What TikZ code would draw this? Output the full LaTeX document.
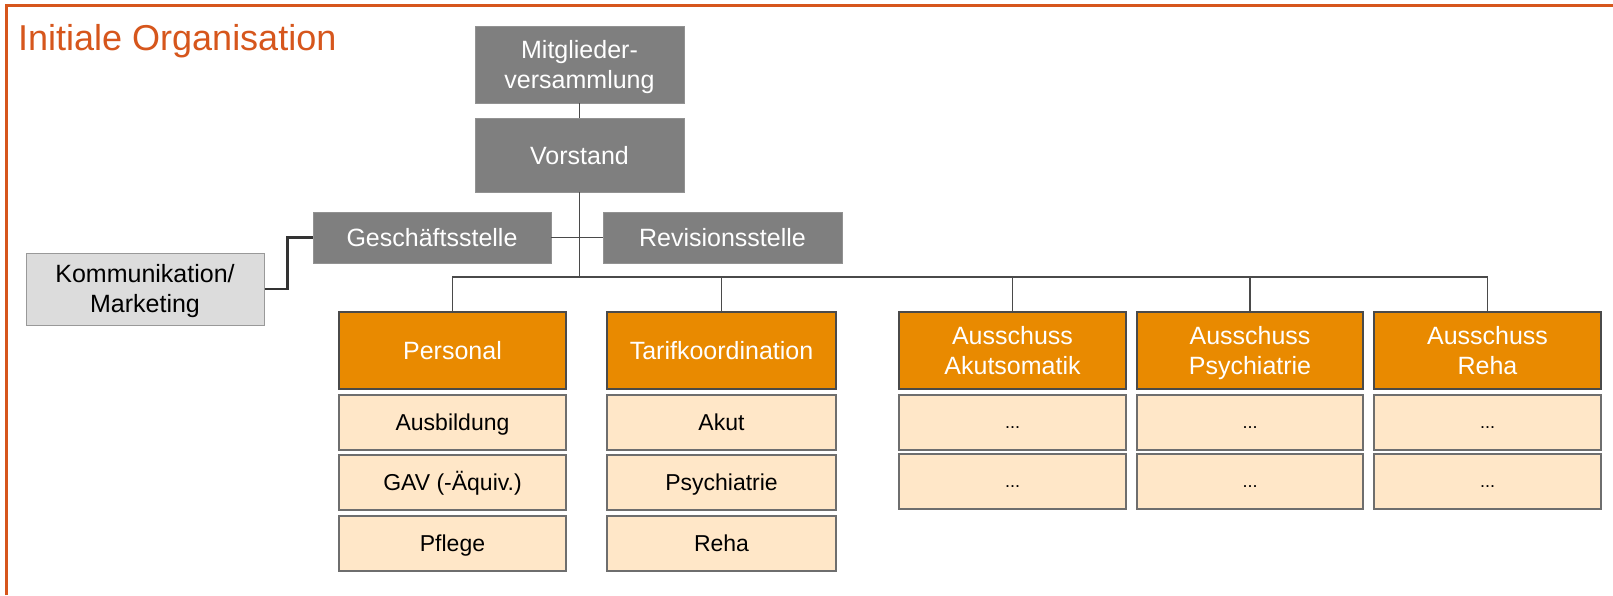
\documentclass[tikz,border=0pt]{standalone}
\usepackage{fontspec}
\setmainfont{Liberation Sans}
\definecolor{frameor}{HTML}{D6561C}
\definecolor{boxgray}{HTML}{7F7F7F}
\definecolor{boxorange}{HTML}{E98A00}
\definecolor{boxpeach}{HTML}{FFE7C8}
\definecolor{boxlight}{HTML}{DCDCDC}
\definecolor{linegray}{HTML}{4A4A4A}
\newcommand{\ms}{\rule[-0.2em]{0pt}{1.12em}}
\begin{document}
\begin{tikzpicture}[x=1pt,y=-1pt,
  base/.style={rectangle, inner sep=0pt, align=center, font=\fontsize{25}{30}\selectfont},
  graybox/.style={base, fill=boxgray, draw=boxgray!85!white, line width=0.8pt, text=white},
  orbox/.style={base, fill=boxorange, draw=linegray, line width=1.2pt, text=white},
  subbox/.style={base, fill=boxpeach, draw=linegray!80, line width=1.2pt, text=black, font=\fontsize{23}{28}\selectfont},
  dotbox/.style={subbox, font=\fontsize{18}{20}\selectfont},
  lightbox/.style={base, fill=boxlight, draw=boxgray!80, line width=1pt, text=black},
  conn/.style={draw=linegray, line width=1.4pt},
  thickconn/.style={draw=black!80, line width=2.4pt}
]
\useasboundingbox (0,0) rectangle (1613,595);
\fill[white] (0,0) rectangle (1613,595);
\draw[frameor, line width=3pt] (6,595) -- (6,5) -- (1613,5);
\node[anchor=base west, text=frameor, font=\fontsize{36}{40}\selectfont, inner sep=0pt] (title) at (18,50) {Initiale Organisation};

% top hierarchy
\node[graybox, minimum width=209pt, minimum height=77pt] (mv) at (579.5,64.5) {\ms Mitglieder-\\\ms versammlung};
\node[graybox, minimum width=209pt, minimum height=74pt] (vs) at (579.5,155) {\ms Vorstand};
\node[graybox, minimum width=238pt, minimum height=51pt] (gs) at (432,237.5) {\ms Geschäftsstelle};
\node[graybox, minimum width=239pt, minimum height=51pt] (rs) at (722.5,237.5) {\ms Revisionsstelle};
\node[lightbox, minimum width=238pt, minimum height=72pt] (km) at (145,289) {\ms Kommunikation/\\\ms Marketing};

% main units
\node[orbox, minimum width=227pt, minimum height=77pt] (pe) at (452.5,350.5) {\ms Personal};
\node[orbox, minimum width=229pt, minimum height=77pt] (ta) at (721.5,350.5) {\ms Tarifkoordination};
\node[orbox, minimum width=227pt, minimum height=77pt] (aa) at (1012.5,350.5) {\ms Ausschuss\\\ms Akutsomatik};
\node[orbox, minimum width=226pt, minimum height=77pt] (ap) at (1250,350.5) {\ms Ausschuss\\\ms Psychiatrie};
\node[orbox, minimum width=227pt, minimum height=77pt] (ar) at (1487.5,350.5) {\ms Ausschuss\\\ms Reha};

% sub boxes
\node[subbox, minimum width=227pt, minimum height=55pt] (pe1) at (452.5,422.5) {\ms Ausbildung};
\node[subbox, minimum width=227pt, minimum height=55pt] (pe2) at (452.5,482.5) {\ms GAV (-Äquiv.)};
\node[subbox, minimum width=227pt, minimum height=55pt] (pe3) at (452.5,543.5) {\ms Pflege};
\node[subbox, minimum width=229pt, minimum height=55pt] (ta1) at (721.5,422.5) {\ms Akut};
\node[subbox, minimum width=229pt, minimum height=55pt] (ta2) at (721.5,482.5) {\ms Psychiatrie};
\node[subbox, minimum width=229pt, minimum height=55pt] (ta3) at (721.5,543.5) {\ms Reha};
\node[dotbox, minimum width=227pt, minimum height=55pt] (aa1) at (1012.5,422.5) {\ms ...};
\node[dotbox, minimum width=227pt, minimum height=55pt] (aa2) at (1012.5,481.5) {\ms ...};
\node[dotbox, minimum width=226pt, minimum height=55pt] (ap1) at (1250,422.5) {\ms ...};
\node[dotbox, minimum width=226pt, minimum height=55pt] (ap2) at (1250,481.5) {\ms ...};
\node[dotbox, minimum width=227pt, minimum height=55pt] (ar1) at (1487.5,422.5) {\ms ...};
\node[dotbox, minimum width=227pt, minimum height=55pt] (ar2) at (1487.5,481.5) {\ms ...};

% connectors
\coordinate (bus) at (579.5,277);
\draw[conn] (mv.south) -- (vs.north);
\draw[conn] (vs.south) -- (bus);
\draw[conn] (gs.east) -- (rs.west);
\draw[conn] (pe.north) |- (bus) -| (ar.north);
\draw[conn] (ta.north) -- (ta.north |- bus);
\draw[conn] (aa.north) -- (aa.north |- bus);
\draw[conn] (ap.north) -- (ap.north |- bus);
\draw[thickconn] (km.east) -| ([xshift=-25pt]gs.west) -- (gs.west);
\end{tikzpicture}
\end{document}
